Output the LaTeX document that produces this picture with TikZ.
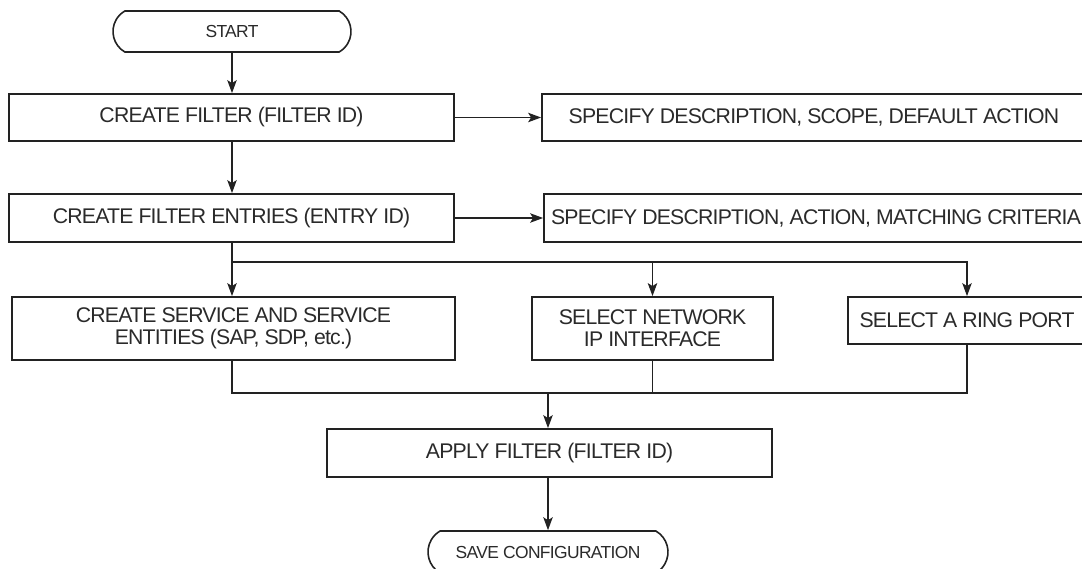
\documentclass[tikz,border=0pt]{standalone}
\usepackage{fontspec}
\setmainfont{Liberation Sans}
\newfontfamily\labelfont{Liberation Sans}[LetterSpace=-3.7]
\usetikzlibrary{arrows.meta,shapes.misc}
\definecolor{ink}{HTML}{222222}
\definecolor{txt}{HTML}{2A2A2A}
\begin{document}
\begin{tikzpicture}[x=1bp,y=-1bp,
  stepbox/.style={draw=ink,line width=1.8bp,rectangle,inner sep=0pt,
    text=txt,align=center,font=\labelfont\fontsize{21.3}{22}\selectfont},
  termbox/.style={draw=ink,line width=1.6bp,rounded rectangle,
    rounded rectangle arc length=120,inner sep=0pt,text=txt,
    font=\labelfont\fontsize{17.5}{19}\selectfont},
  conn/.style={draw=ink,line width=1.2bp},
  arr/.style={conn,-{Stealth[length=13bp,width=9.5bp,inset=3bp]}}]
\useasboundingbox (0,0) rectangle (1082,569);
\clip (0,0) rectangle (1082,569);

% terminators
\node[termbox,minimum width=238bp,minimum height=41bp] (start) at (232,31.5) {START};
\node[termbox,minimum width=240bp,minimum height=42bp] (save) at (548,552) {SAVE CONFIGURATION};

% process steps
\node[stepbox,minimum width=445bp,minimum height=47bp] (cf) at (231.5,117.5) {CREATE FILTER (FILTER ID)};
\node[stepbox,minimum width=544bp,minimum height=47bp] (sd1) at (814,117.5) {SPECIFY DESCRIPTION, SCOPE, DEFAULT ACTION};
\node[stepbox,minimum width=445bp,minimum height=48bp] (ce) at (231.5,218) {CREATE FILTER ENTRIES (ENTRY ID)};
\node[stepbox,minimum width=544bp,minimum height=48bp] (sd2) at (816,218) {SPECIFY DESCRIPTION, ACTION, MATCHING CRITERIA};
\node[stepbox,minimum width=443bp,minimum height=63bp] (svc) at (233.5,328.5) {CREATE SERVICE AND SERVICE\\ENTITIES (SAP, SDP, etc.)};
\node[stepbox,minimum width=241bp,minimum height=63bp] (ipif) at (652.5,328.5) {SELECT NETWORK\\IP INTERFACE};
\node[stepbox,minimum width=238bp,minimum height=47bp] (ring) at (967,320.5) {SELECT A RING PORT};
\node[stepbox,minimum width=445bp,minimum height=48bp] (apply) at (549.5,453) {APPLY FILTER (FILTER ID)};

% branch and join points
\coordinate (split) at (232,262);
\coordinate (join) at (548,393);

% connectors
\draw[arr] (start.south) -- (start.south |- cf.north);
\draw[arr] (cf.east) -- (cf.east -| sd1.west);
\draw[arr] (cf.south -| start.south) -- (start.south |- ce.north);
\draw[arr] (ce.east) -- (ce.east -| sd2.west);
\draw[arr] (ce.south -| split) -- (split |- svc.north);
\draw[arr] (split) -| (ipif.north);
\draw[arr] (split) -| (ring.north);
\draw[conn] (svc.south -| split) |- (ring.south |- join) -- (ring.south);
\draw[conn] (ipif.south) -- (ipif.south |- join);
\draw[arr] (join) -- (join |- apply.north);
\draw[arr] (apply.south -| join) -- (join |- save.north);
\end{tikzpicture}
\end{document}
